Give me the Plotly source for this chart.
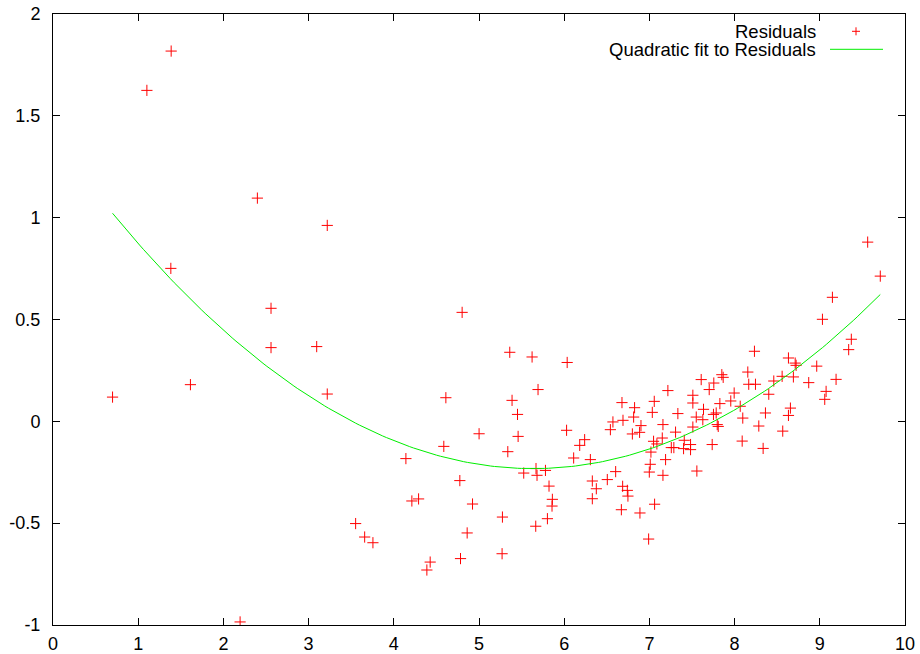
import numpy as np
import plotly.graph_objects as go

# Residual samples
res_x = [
    0.699, 1.102, 1.387, 1.383, 1.613, 2.196, 2.399, 2.559, 2.559, 3.095, 3.219, 3.219,
    4.802, 5.361, 5.623, 6.035, 5.693, 4.611, 5.388, 5.452, 5.001, 5.459, 6.028, 4.587,
    5.338, 6.111, 4.142, 5.525, 5.669, 5.681, 5.780, 5.822, 5.861, 5.857, 5.803, 5.666,
    5.275, 4.775, 4.924, 4.212, 4.291, 4.861, 3.552, 3.658, 3.755, 4.427, 4.388, 4.783,
    5.271,
    6.240, 6.182, 6.307, 6.330, 6.377, 6.330, 6.506, 6.604, 6.678, 6.572, 6.542, 6.690,
    6.826, 6.815, 6.901, 6.800, 6.885, 6.686, 6.741, 6.748, 6.671, 6.889, 7.061, 6.991,
    7.057, 7.034, 7.217, 7.159, 7.049, 7.088, 7.151, 7.018, 7.010, 6.999, 7.159, 7.190,
    7.257, 7.287, 7.307, 7.334, 7.409, 7.401, 7.483, 7.483, 7.510, 7.510, 7.510, 7.550,
    7.557, 7.608, 7.635, 7.627, 7.702, 7.756, 7.737, 7.752, 7.784, 7.796, 7.808, 7.827,
    7.850, 7.866, 7.955, 7.995,
    9.562, 9.710, 9.148, 9.031, 9.370, 9.339, 8.233, 8.632, 8.711, 8.722, 8.964, 8.155,
    8.558, 8.690, 8.460, 8.166, 8.245, 8.870, 9.191, 8.401, 9.074, 9.058, 8.066, 8.655,
    8.362, 8.096, 8.632, 8.284, 8.565, 8.089, 8.335,
]
res_y = [
    0.119, 1.625, 1.818, 0.751, 0.180, -0.985, 1.096, 0.555, 0.362, 0.367, 0.962, 0.134,
    0.535, 0.339, 0.316, 0.289, 0.156, 0.116, 0.103, 0.034, -0.061, -0.074, -0.044, -0.123,
    -0.149, -0.180, -0.183, -0.254, -0.232, -0.265, -0.241, -0.318, -0.383, -0.416, -0.478, -0.515,
    -0.470, -0.291, -0.406, -0.391, -0.381, -0.548, -0.502, -0.568, -0.596, -0.691, -0.730, -0.674,
    -0.650,
    -0.090, -0.118, -0.188, -0.293, -0.331, -0.380, -0.286, -0.247, 0.092, -0.003, -0.041, 0.005,
    0.067, 0.021, -0.021, -0.062, -0.054, -0.319, -0.339, -0.367, -0.434, -0.450, -0.407, -0.578,
    0.098, 0.044, 0.151, -0.016, -0.098, -0.111, -0.082, -0.151, -0.211, -0.249, -0.265, -0.188,
    -0.129, -0.129, -0.053, 0.038, -0.093, -0.134, -0.114, -0.139, -0.028, 0.128, 0.090, 0.021,
    -0.244, 0.205, 0.059, 0.008, 0.156, 0.188, -0.114, 0.034, 0.041, -0.016, -0.025, 0.087,
    0.229, 0.216, 0.100, 0.139,
    0.880, 0.713, 0.609, 0.501, 0.403, 0.352, 0.344, 0.311, 0.286, 0.275, 0.271, 0.242,
    0.221, 0.218, 0.198, 0.182, 0.182, 0.190, 0.206, 0.133, 0.147, 0.108, 0.074, 0.065,
    0.041, 0.016, 0.029, -0.023, -0.048, -0.097, -0.133,
]

# Quadratic fit coefficients: y = a*x^2 + b*x + c
fit_coef = [0.05147, -0.5800, 1.4018]
fit_range = [0.699, 9.710]

x_ticks = [0, 1, 2, 3, 4, 5, 6, 7, 8, 9, 10]
y_ticks = [-1, -0.5, 0, 0.5, 1, 1.5, 2]

fit_x = np.linspace(fit_range[0], fit_range[1], 200)
fit_y = np.polyval(fit_coef, fit_x)

RED = "#ff0000"
GREEN = "#00ee00"
FONT = "Liberation Sans, Arial, Helvetica, sans-serif"
FS = 18
KEY_FS = 18.5

fig = go.Figure()
fig.add_trace(go.Scatter(
    x=res_x, y=res_y, mode="markers", name="Residuals",
    marker=dict(symbol="cross-thin", size=8, line=dict(width=1, color=RED), color=RED),
    showlegend=False,
))
fig.add_trace(go.Scatter(
    x=fit_x, y=fit_y, mode="lines", name="Quadratic fit to Residuals",
    line=dict(color=GREEN, width=1), showlegend=False,
))

# gnuplot-style key in the top right: right-justified text followed by sample
W, H = 852.0, 611.0
def px(xp):
    return (xp - 53.0) / W
def py(yp):
    return (625.0 - yp) / H

fig.add_annotation(x=px(818), y=py(31), xref="paper", yref="paper", text="Residuals",
                   showarrow=False, xanchor="right", yanchor="middle",
                   font=dict(family=FONT, size=KEY_FS, color="black"))
fig.add_annotation(x=px(818), y=py(49.5), xref="paper", yref="paper",
                   text="Quadratic fit to Residuals",
                   showarrow=False, xanchor="right", yanchor="middle",
                   font=dict(family=FONT, size=KEY_FS, color="black"))
# sample "+"
fig.add_shape(type="line", xref="paper", yref="paper",
              x0=px(852), x1=px(860), y0=py(31.3), y1=py(31.3), line=dict(color=RED, width=1))
fig.add_shape(type="line", xref="paper", yref="paper",
              x0=px(856), x1=px(856), y0=py(27.3), y1=py(35.3), line=dict(color=RED, width=1))
# sample line
fig.add_shape(type="line", xref="paper", yref="paper",
              x0=px(830), x1=px(883), y0=py(49.3), y1=py(49.3), line=dict(color=GREEN, width=1))

axis_common = dict(
    showline=True, linecolor="black", linewidth=1, mirror="ticks",
    ticks="inside", ticklen=7, tickwidth=1, tickcolor="black",
    showgrid=False, zeroline=False, automargin=False,
    tickfont=dict(family=FONT, size=FS, color="black"),
)
fig.update_xaxes(range=[0, 10], tickvals=x_ticks, ticktext=[str(v) for v in x_ticks],
                 ticklabelstandoff=2, **axis_common)
fig.update_yaxes(range=[-1, 2], tickvals=y_ticks, ticktext=[f"{v:g}" for v in y_ticks],
                 ticklabelstandoff=8, **axis_common)

fig.update_layout(
    width=920, height=654,
    margin=dict(l=53, r=15, t=14, b=29, pad=0, autoexpand=False),
    paper_bgcolor="white", plot_bgcolor="white",
    font=dict(family=FONT, size=FS, color="black"),
)

fig.write_html("out.html")
